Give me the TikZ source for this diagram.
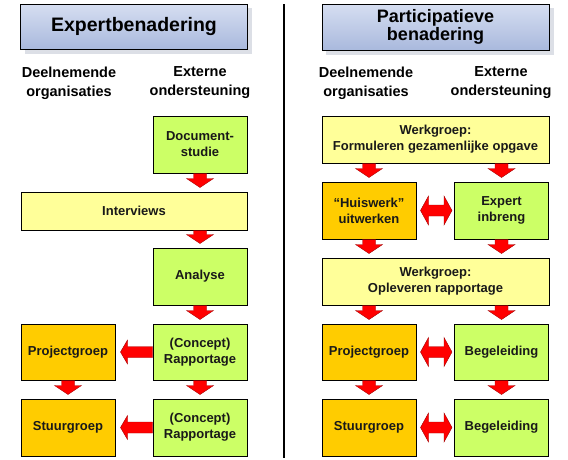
\documentclass[tikz,border=0pt]{standalone}
\usepackage{fontspec}
\setmainfont{Liberation Sans}
\usetikzlibrary{calc}
\definecolor{boxgreen}{HTML}{CCFF66}
\definecolor{boxyellow}{HTML}{FFFF99}
\definecolor{boxorange}{HTML}{FFCC00}
\definecolor{titletop}{HTML}{D6DEF1}
\definecolor{titlebot}{HTML}{A9B9DD}
\definecolor{shadowgray}{HTML}{DCDFE6}
\definecolor{arrowedge}{HTML}{A00000}
\tikzset{
  box/.style={draw=black, line width=1pt, align=center, inner sep=1pt,
    font=\bfseries\fontsize{13}{16}\selectfont, text=black!90},
  greenbox/.style={box, fill=boxgreen, minimum width=94pt, minimum height=57pt},
  orangebox/.style={box, fill=boxorange, minimum width=94pt, minimum height=57pt},
  yellowbox/.style={box, fill=boxyellow},
  titlebox/.style={draw=black, line width=0.8pt, top color=titletop, bottom color=titlebot,
    align=center, font=\bfseries\fontsize{18}{18.5}\selectfont,
    minimum width=227pt, minimum height=45pt, inner sep=0pt},
  header/.style={align=center, font=\bfseries\fontsize{14.5}{19}\selectfont, inner sep=0pt},
  blockarrow/.style={fill=red, draw=arrowedge, line width=0.4pt, line join=miter},
}
% down arrow: #1 start point (top), #2 point of next box (tip stops 4pt above)
\newcommand\dnarrow[2]{%
  \path[blockarrow] let \p1=#1, \p2=#2 in
    (\x1-6.5pt,\y1) -- (\x1+6.5pt,\y1) -- (\x1+6.5pt,\y2+13pt) -- (\x1+13.5pt,\y2+13pt)
    -- (\x1,\y2+4pt) -- (\x1-13.5pt,\y2+13pt) -- (\x1-6.5pt,\y2+13pt) -- cycle;}
% left arrow: #1 start (right side), #2 target box edge (tip stops 5pt right of it)
\newcommand\lfarrow[2]{%
  \path[blockarrow] let \p1=#1, \p2=#2 in
    (\x1,\y1+5.5pt) -- (\x2+12pt,\y1+5.5pt) -- (\x2+12pt,\y1+12pt) -- (\x2+5pt,\y1)
    -- (\x2+12pt,\y1-12pt) -- (\x2+12pt,\y1-5.5pt) -- (\x1,\y1-5.5pt) -- cycle;}
% double arrow between #1 (left box east) and #2 (right box west)
\newcommand\dbarrow[2]{%
  \path[blockarrow] let \p1=#1, \p2=#2 in
    (\x1+4pt,\y1) -- (\x1+12pt,\y1+14.5pt) -- (\x1+12pt,\y1+5.5pt) -- (\x2-10pt,\y1+5.5pt)
    -- (\x2-10pt,\y1+14.5pt) -- (\x2-2pt,\y1) -- (\x2-10pt,\y1-14.5pt) -- (\x2-10pt,\y1-5.5pt)
    -- (\x1+12pt,\y1-5.5pt) -- (\x1+12pt,\y1-14.5pt) -- cycle;}
\begin{document}
\begin{tikzpicture}[x=1pt,y=-1pt]
\useasboundingbox (0,0) rectangle (568,459);
% divider
\coordinate (dtop) at (283.5,4);
\coordinate (dbot) at (283.5,458);
\draw[line width=2pt] (dtop) -- (dbot);
% titles
\fill[shadowgray] (25,8) rectangle (252,54);
\fill[shadowgray] (326,8) rectangle (554,55);
\node[titlebox, font=\bfseries\fontsize{19.5}{20}\selectfont] (t1) at (134,26.5) {Expertbenadering};
\node[titlebox, minimum height=46pt] (t2) at (435.5,27) {Participatieve\\benadering};
% headers
\node[header] (h1) at (69,83) {Deelnemende\\organisaties};
\node[header] (h2) at (200,83) {Externe\\ondersteuning};
\node[header] (h3) at (366,83) {Deelnemende\\organisaties};
\node[header] (h4) at (501,83) {Externe\\ondersteuning};
% left column
\node[greenbox] (doc) at (200,144.5) {Document-\\studie};
\node[yellowbox, minimum width=226pt, minimum height=38pt] (int) at (134,211) {Interviews};
\node[greenbox] (ana) at (200,276.5) {Analyse};
\node[greenbox, minimum height=56pt] (rap1) at (200,352) {(Concept)\\Rapportage};
\node[greenbox] (rap2) at (200,427.5) {(Concept)\\Rapportage};
\node[orangebox, minimum height=56pt] (pg1) at (68,352) {Projectgroep};
\node[orangebox] (sg1) at (68,427.5) {Stuurgroep};
% right column
\node[yellowbox, minimum width=227pt, minimum height=47pt] (wg1) at (435.5,139.5) {Werkgroep:\\Formuleren gezamenlijke opgave};
\node[orangebox] (huis) at (369,210.5) {“Huiswerk”\\uitwerken};
\node[greenbox] (exp) at (501.5,210.5) {Expert\\inbreng};
\node[yellowbox, minimum width=227pt, minimum height=47pt] (wg2) at (435.5,281.5) {Werkgroep:\\Opleveren rapportage};
\node[orangebox, minimum height=56pt] (pg2) at (369,352) {Projectgroep};
\node[greenbox, minimum height=56pt] (beg1) at (501.5,352) {Begeleiding};
\node[orangebox] (sg2) at (369,427.5) {Stuurgroep};
\node[greenbox] (beg2) at (501.5,427.5) {Begeleiding};
% left arrows
\dnarrow{(doc.south)}{(doc.south |- int.north)}
\dnarrow{(doc.south |- int.south)}{(ana.north)}
\dnarrow{(ana.south)}{(rap1.north)}
\dnarrow{(rap1.south)}{(rap2.north)}
\dnarrow{(pg1.south)}{(sg1.north)}
\lfarrow{(rap1.west)}{(pg1.east)}
\lfarrow{(rap2.west)}{(sg1.east)}
% right arrows
\dnarrow{(huis.north |- wg1.south)}{(huis.north)}
\dnarrow{(exp.north |- wg1.south)}{(exp.north)}
\dnarrow{(huis.south)}{(huis.south |- wg2.north)}
\dnarrow{(exp.south)}{(exp.south |- wg2.north)}
\dnarrow{(pg2.north |- wg2.south)}{(pg2.north)}
\dnarrow{(beg1.north |- wg2.south)}{(beg1.north)}
\dnarrow{(pg2.south)}{(sg2.north)}
\dnarrow{(beg1.south)}{(beg2.north)}
\dbarrow{(huis.east)}{(exp.west)}
\dbarrow{(pg2.east)}{(beg1.west)}
\dbarrow{(sg2.east)}{(beg2.west)}
\end{tikzpicture}
\end{document}
